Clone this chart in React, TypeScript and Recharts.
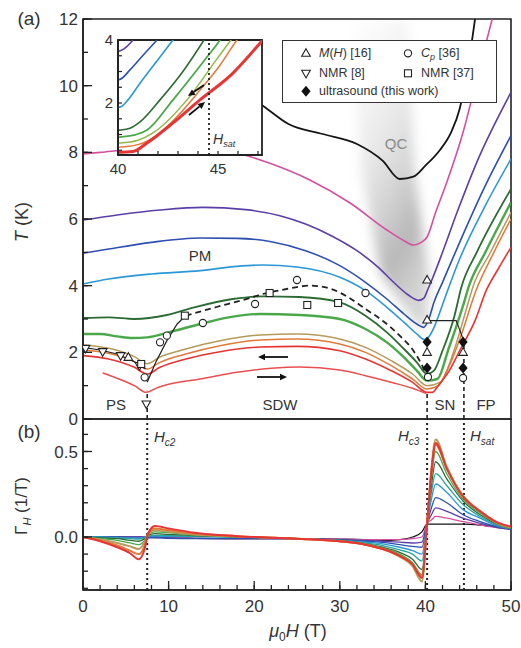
import React from 'react';
import {
  ComposedChart, Line, Area, Scatter, XAxis, YAxis, ReferenceArea, ReferenceLine,
} from 'recharts';

type Pt = [number, number];

const FONT = '"Liberation Sans", Arial, Helvetica, sans-serif';
const INK = '#222';
const TXT = '#333';

// ---------- panel (a): T (K) vs mu0H (T) ----------
const curveBlack: Pt[] = [[18, 9.9], [21, 9.4], [24, 8.85], [28, 8.55], [32, 8.25], [35, 7.75], [37, 7.2], [38.6, 7.27], [40, 7.6], [41.7, 8.07], [43, 8.6], [44, 9.3], [45, 10.6], [45.8, 12]];
const curveMagenta: Pt[] = [[0, 7.95], [2, 8.0], [6, 8.1], [12, 8.2], [17, 8.05], [21.5, 7.7], [26.5, 7.17], [31.2, 6.48], [35.5, 5.67], [37.5, 5.35], [38.6, 5.22], [39.5, 5.3], [40.2, 5.46], [41.2, 6.2], [42.5, 7.1], [44.4, 8.6], [46, 10.2], [47.8, 12]];
const curvePurple: Pt[] = [[0, 5.97], [4, 6.12], [9, 6.27], [14, 6.35], [19, 6.28], [23, 6.1], [26, 5.85], [29, 5.5], [32, 5.05], [34.5, 4.55], [36.5, 4.05], [38, 3.72], [39.2, 3.56], [39.8, 3.62], [40.3, 3.9], [40.8, 4.2], [42, 5.0], [43.7, 6.2], [46, 7.7], [50, 9.8]];
const curveBlue: Pt[] = [[0, 4.97], [3, 5.1], [8, 5.3], [13.7, 5.43], [18, 5.42], [22, 5.32], [26, 5.05], [30, 4.6], [33, 4.1], [35.5, 3.6], [37.5, 3.15], [39, 2.85], [39.8, 2.75], [40.4, 3.0], [41, 3.5], [42, 4.1], [44, 5.3], [47, 7.0], [50, 8.5]];
const curveCyan: Pt[] = [[0, 4.05], [3, 4.2], [8, 4.35], [13.7, 4.45], [18, 4.58], [21, 4.62], [25, 4.56], [30, 4.25], [33, 3.85], [35.5, 3.35], [37.5, 2.9], [39, 2.55], [39.9, 2.38], [40.5, 2.5], [41.1, 2.8], [42.1, 3.5], [42.8, 4.0], [44, 4.8], [47, 6.4], [50, 7.8]];
const curveDkGreen: Pt[] = [[0, 3.03], [3, 3.05], [6, 3.0], [9.8, 3.12], [13, 3.35], [17.5, 3.6], [21, 3.68], [25.3, 3.66], [30, 3.5], [33, 3.1], [35.5, 2.6], [37.5, 2.1], [39, 1.7], [40.2, 1.35], [41, 1.45], [42, 2.05], [43.4, 3.1], [44.2, 3.95], [46, 5.0], [50, 6.9]];
const curveGreen: Pt[] = [[0, 2.55], [2, 2.55], [4, 2.48], [5.8, 2.43], [7.5, 2.45], [10, 2.6], [13.7, 2.85], [17, 3.05], [20.7, 3.15], [25.3, 3.12], [30, 3.0], [33, 2.7], [35.5, 2.3], [37.5, 1.85], [39, 1.45], [40.2, 1.15], [41.4, 1.2], [42.7, 2.1], [44.4, 3.4], [45.1, 4.0], [47, 5.0], [50, 6.5]];
const curveOlive: Pt[] = [[0, 2.22], [3, 2.12], [6, 1.87], [7.5, 1.66], [9, 1.86], [12, 2.1], [16, 2.35], [20.7, 2.52], [25, 2.55], [30, 2.4], [33, 2.15], [36, 1.75], [38.5, 1.35], [40.2, 1.0], [41.7, 1.1], [43.4, 2.1], [44.9, 3.4], [45.6, 4.0], [47.5, 4.95], [50, 6.2]];
const curveOrange: Pt[] = [[0, 2.07], [3, 1.97], [6, 1.72], [7.5, 1.5], [9, 1.7], [12, 1.95], [16, 2.2], [20.7, 2.37], [25, 2.4], [30, 2.25], [33, 2.0], [36, 1.6], [38.5, 1.2], [40.2, 0.9], [41.5, 1.0], [42.8, 1.6], [44.1, 2.45], [45.9, 3.85], [48, 5.0], [50, 6.0]];
const curveRed: Pt[] = [[0, 1.9], [3, 1.8], [6, 1.55], [7.5, 1.35], [9, 1.55], [12, 1.8], [16, 2.02], [20.7, 2.16], [25, 2.18], [30, 2.05], [33, 1.8], [36, 1.45], [38.5, 1.1], [40.2, 0.8], [40.8, 0.8], [41.5, 1.0], [42.8, 1.45], [44.1, 2.1], [45.8, 2.95], [47.1, 3.85], [48.5, 4.5], [50, 5.15]];
const curveRedLow: Pt[] = [[2.3, 1.38], [4, 1.22], [6, 1.0], [7.4, 0.8], [8.5, 0.92], [10.5, 1.07], [13.7, 1.2], [18, 1.4], [22, 1.52], [25.3, 1.56], [30, 1.47], [33, 1.3], [36, 1.1], [38.5, 0.92], [40.1, 0.76]];

// phase boundaries
const psBoundary: Pt[] = [[0, 2.15], [2, 2.07], [4, 1.95], [6, 1.72], [7.3, 1.5]];
const hc2Boundary: Pt[] = [[7.5, 1.1], [8.5, 1.7], [9.8, 2.35], [11, 2.85], [12, 3.1]];
const sdwDome: Pt[] = [[12, 3.1], [15.6, 3.36], [18.7, 3.57], [21, 3.75], [23.8, 3.9], [26.5, 4.0], [29, 3.9], [31, 3.65], [33, 3.3], [35, 2.95], [37, 2.5], [38.6, 2.05], [39.7, 1.56], [40.2, 1.26]];
const snBoundary: Pt[] = [[40.3, 2.95], [43.6, 2.95], [44.4, 2.4]];

// symbols
const ptsMH: Pt[] = [[5.3, 1.85], [40.2, 4.17], [40.2, 2.97], [40.2, 2.0], [44.4, 2.0]];
const ptsCp: Pt[] = [[7.2, 1.25], [9.0, 2.3], [9.8, 2.5], [14, 2.88], [20.1, 3.45], [25, 4.17], [33, 3.78], [40.3, 1.26], [44.4, 1.23]];
const ptsNmr8: Pt[] = [[0.3, 2.12], [2.3, 2.02], [4.4, 1.9], [6.6, 1.6], [7.4, 0.45]];
const ptsNmr37: Pt[] = [[6.8, 1.65], [11.9, 3.1], [21.8, 3.78], [26.2, 3.42], [29.8, 3.48]];
const ptsUltra: Pt[] = [[40.2, 2.31], [40.2, 1.53], [44.4, 2.31], [44.4, 1.53]];

// quantum-critical fan
const qcH = [31, 32.5, 34.7, 37.9, 38.7, 39.5, 40.2, 40.5];
const qcLow = [12, 7.5, 4.4, 3.2, 2.95, 2.7, 2.8, 4.2];
const qcHigh = [12, 12, 12, 12, 7.5, 5.9, 4.7, 4.2];

const ticksT = [0, 1, 2, 3, 4, 5, 6, 7, 8, 9, 10, 11, 12];
const labelsT = [0, 2, 4, 6, 8, 10, 12];
const ticksH = [0, 2, 4, 6, 8, 10, 12, 14, 16, 18, 20, 22, 24, 26, 28, 30, 32, 34, 36, 38, 40, 42, 44, 46, 48, 50];
const labelsH = [0, 10, 20, 30, 40, 50];

// ---------- inset ----------
const inPurple: Pt[] = [[39.8, 3.6], [40.3, 3.72], [40.75, 4.0], [41, 4.2]];
const inBlue: Pt[] = [[39.8, 2.72], [40.1, 2.75], [40.6, 3.05], [41.3, 3.55], [41.95, 4.0], [42.3, 4.25]];
const inCyan: Pt[] = [[39.8, 1.86], [40.1, 1.87], [40.5, 2.1], [41.1, 2.63], [42.1, 3.46], [42.75, 4.0], [43, 4.2]];
const inDkGreen: Pt[] = [[39.8, 1.13], [40.1, 1.14], [40.6, 1.2], [41.1, 1.4], [42.1, 2.1], [43.3, 3.05], [44.3, 4.0], [44.5, 4.2]];
const inGreen: Pt[] = [[39.8, 0.9], [40.1, 0.92], [40.8, 0.98], [41.45, 1.14], [42.75, 2.1], [44.45, 3.46], [45.1, 4.0], [45.3, 4.2]];
const inOlive: Pt[] = [[39.8, 0.72], [40.1, 0.73], [41, 0.82], [41.75, 1.05], [43.45, 2.1], [44.95, 3.4], [45.65, 4.0], [45.9, 4.2]];
const inOrange: Pt[] = [[39.8, 0.58], [40.1, 0.6], [41, 0.68], [42, 1.0], [43, 1.6], [44.1, 2.41], [45.1, 3.2], [45.95, 4.0], [46.2, 4.2]];
const inRed: Pt[] = [[39.8, 0.44], [40.1, 0.44], [40.75, 0.46], [41.45, 0.73], [42.75, 1.37], [44.1, 2.1], [45.75, 2.95], [47.1, 3.9], [47.5, 4.2]];
const inTicksH = [40, 41, 42, 43, 44, 45, 46, 47];
const inLabelsH = [40, 45];
const inTicksT = [0.5, 1, 1.5, 2, 2.5, 3, 3.5, 4];
const inLabelsT = [2, 4];

// ---------- panel (b): Gamma_H (1/T) ----------
const gH = [0, 2, 4, 5.5, 6.5, 7.2, 7.6, 8.4, 10, 13, 18, 25, 30, 33, 35, 37, 38.5, 39.6, 40.2, 40.7, 41.2, 42.5, 44.4, 46.4, 48.4, 50];
const gBlack = [0, 0, 0, 0, 0, 0, 0, 0, -0.005, -0.008, -0.01, -0.01, -0.012, -0.015, -0.02, -0.015, 0.0, 0.03, 0.075, 0.075, 0.075, 0.075, 0.075, 0.07, 0.06, 0.05];
const gMagenta = [0, 0, 0, 0, 0, 0, 0, 0, -0.005, -0.008, -0.01, -0.01, -0.012, -0.015, -0.015, -0.015, -0.01, 0.0, 0.08, 0.1, 0.12, 0.11, 0.09, 0.07, 0.055, 0.045];
const gPurple = [0, 0, 0, 0, 0, 0, 0, 0, -0.005, -0.008, -0.01, -0.01, -0.015, -0.02, -0.025, -0.03, -0.035, -0.03, 0.08, 0.13, 0.17, 0.15, 0.11, 0.08, 0.055, 0.045];
const gBlue = [0, 0, 0, -0.003, -0.005, -0.005, -0.005, -0.005, -0.008, -0.01, -0.01, -0.01, -0.018, -0.025, -0.032, -0.045, -0.055, -0.06, 0.08, 0.17, 0.23, 0.2, 0.13, 0.09, 0.06, 0.045];
const gCyan = [0, 0, -0.003, -0.005, -0.006, 0, 0.003, 0.005, 0.004, 0.002, 0, -0.01, -0.02, -0.03, -0.04, -0.06, -0.08, -0.1, 0.08, 0.22, 0.31, 0.26, 0.16, 0.11, 0.065, 0.05];
const gTeal = [0, -0.003, -0.006, -0.01, -0.012, -0.005, 0.005, 0.01, 0.008, 0.004, 0, -0.01, -0.02, -0.035, -0.05, -0.075, -0.1, -0.14, 0.08, 0.26, 0.37, 0.3, 0.19, 0.12, 0.07, 0.05];
const gDkGreen = [0, -0.005, -0.01, -0.02, -0.025, -0.01, 0.01, 0.02, 0.015, 0.008, 0, -0.01, -0.022, -0.04, -0.06, -0.09, -0.13, -0.19, 0.08, 0.3, 0.44, 0.34, 0.21, 0.13, 0.075, 0.05];
const gGreen = [0, -0.01, -0.02, -0.035, -0.045, -0.02, 0.015, 0.03, 0.025, 0.012, 0.002, -0.01, -0.025, -0.042, -0.065, -0.1, -0.15, -0.22, 0.08, 0.35, 0.5, 0.37, 0.22, 0.14, 0.08, 0.055];
const gOlive = [0, -0.015, -0.035, -0.055, -0.07, -0.03, 0.015, 0.04, 0.03, 0.015, 0.003, -0.01, -0.025, -0.045, -0.07, -0.115, -0.17, -0.26, 0.08, 0.4, 0.57, 0.41, 0.24, 0.15, 0.08, 0.055];
const gOrange = [0, -0.02, -0.05, -0.08, -0.1, -0.05, 0.02, 0.05, 0.04, 0.02, 0.005, -0.01, -0.025, -0.045, -0.07, -0.11, -0.16, -0.23, 0.08, 0.37, 0.54, 0.4, 0.24, 0.15, 0.085, 0.06];
const gRed = [0, -0.025, -0.06, -0.095, -0.13, -0.07, 0.02, 0.065, 0.05, 0.025, 0.005, -0.01, -0.025, -0.045, -0.07, -0.11, -0.16, -0.24, 0.08, 0.38, 0.55, 0.4, 0.235, 0.15, 0.085, 0.06];
const ticksG = [-0.3, -0.2, -0.1, 0, 0.1, 0.2, 0.3, 0.4, 0.5, 0.6];
const labelsG = [0, 0.5];

const rows = (pts: Pt[]) => pts.map(([h, t]) => ({ h, t }));
const qcRows = qcH.map((h, i) => ({ h, r: [qcLow[i], qcHigh[i]] }));
const gRows = gH.map((h, i) => ({
  h, black: gBlack[i], magenta: gMagenta[i], purple: gPurple[i], blue: gBlue[i], cyan: gCyan[i], teal: gTeal[i],
  dkgreen: gDkGreen[i], green: gGreen[i], olive: gOlive[i], orange: gOrange[i], red: gRed[i],
}));

const C = {
  black: '#151515', magenta: '#d3509f', purple: '#5a40a6', blue: '#2f4fb0', cyan: '#2b98d6', teal: '#27a59b',
  dkgreen: '#2d6b34', green: '#4aa84a', olive: '#b59a5c', orange: '#e07a3a', red: '#e63535', redLow: '#ea4f4f',
};

const near = (list: number[], v: number) => list.some((m) => Math.abs(m - v) < 1e-6);

// ticks point inward; majors get an extra longer line
function makeTick(side: 'left' | 'bottom', minor: number, margin: number, major: number, majors: number[], labels: number[], fmt: (v: number) => string, size: number) {
  return (props: any) => {
    const { x, y, payload } = props;
    const v = Number(payload.value);
    const big = near(majors, v);
    const lab = near(labels, v);
    if (side === 'left') {
      const ax = x - minor + margin;
      return (
        <g>
          {big && <line x1={ax} x2={ax + major} y1={y} y2={y} stroke={INK} strokeWidth={1.3} />}
          {lab && <text x={x} y={y} dy="0.36em" textAnchor="end" fontSize={size} fontFamily={FONT} fill={TXT}>{fmt(v)}</text>}
        </g>
      );
    }
    const ay = y + minor - margin;
    return (
      <g>
        {big && <line x1={x} x2={x} y1={ay} y2={ay - major} stroke={INK} strokeWidth={1.3} />}
        {lab && <text x={x} y={y} dy="0.71em" textAnchor="middle" fontSize={size} fontFamily={FONT} fill={TXT}>{fmt(v)}</text>}
      </g>
    );
  };
}

const TriUp = ({ cx, cy }: any) => <path d={`M${cx} ${cy - 4.6}L${cx + 4.3} ${cy + 3}L${cx - 4.3} ${cy + 3}Z`} fill="#fff" stroke={INK} strokeWidth={1.1} />;
const TriDown = ({ cx, cy }: any) => <path d={`M${cx} ${cy + 4.6}L${cx + 4.3} ${cy - 3}L${cx - 4.3} ${cy - 3}Z`} fill="#fff" stroke={INK} strokeWidth={1.1} />;
const Circ = ({ cx, cy }: any) => <circle cx={cx} cy={cy} r={3.6} fill="#fff" stroke={INK} strokeWidth={1.1} />;
const Sq = ({ cx, cy }: any) => <rect x={cx - 3.5} y={cy - 3.5} width={7} height={7} fill="#fff" stroke={INK} strokeWidth={1.1} />;
const Dia = ({ cx, cy }: any) => <path d={`M${cx} ${cy - 5.5}L${cx + 4.6} ${cy}L${cx} ${cy + 5.5}L${cx - 4.6} ${cy}Z`} fill="#111" />;

function Arrow({ x1, y1, x2, y2 }: { x1: number; y1: number; x2: number; y2: number }) {
  const a = Math.atan2(y2 - y1, x2 - x1);
  const L = 7;
  const W = 3.2;
  const bx = x2 - L * Math.cos(a);
  const by = y2 - L * Math.sin(a);
  const px = -Math.sin(a) * W;
  const py = Math.cos(a) * W;
  return (
    <g>
      <line x1={x1} y1={y1} x2={bx} y2={by} stroke="#111" strokeWidth={1.8} />
      <path d={`M${x2},${y2}L${bx + px},${by + py}L${bx - px},${by - py}Z`} fill="#111" />
    </g>
  );
}

const Txt = ({ x, y, children, size = 15, color = TXT, center = true }: any) => (
  <div style={{ position: 'absolute', left: x, top: y, transform: center ? 'translate(-50%, -50%)' : undefined, fontSize: size, color, lineHeight: 1, whiteSpace: 'nowrap' }}>
    {children}
  </div>
);

const Sub = ({ children, size }: any) => (
  <span style={{ fontSize: size, position: 'relative', top: '0.35em', fontStyle: 'italic' }}>{children}</span>
);

const LegendSym = ({ shape }: { shape: (p: any) => any }) => (
  <svg width={12} height={12} style={{ display: 'block' }}>{shape({ cx: 6, cy: 6.3 })}</svg>
);

const lineA = (pts: Pt[], color: string, w = 1.6, key?: string) => (
  <Line key={key} data={rows(pts)} dataKey="t" xAxisId="x" yAxisId="y" type="monotone" stroke={color} strokeWidth={w} dot={false} isAnimationActive={false} />
);

export default function App() {
  return (
    <div style={{ position: 'absolute', left: 0, top: 0, width: 521, height: 648, background: '#fff', fontFamily: FONT, overflow: 'hidden' }}>
      {/* panel (a) */}
      <div style={{ position: 'absolute', left: 0, top: 0 }}>
        <ComposedChart width={521} height={440} margin={{ top: 19, right: 10, bottom: 21, left: 0 }}>
          <defs>
            <linearGradient id="qcFill" x1="0.15" y1="0" x2="0.6" y2="1">
              <stop offset="0" stopColor="#f2f2f2" stopOpacity={0.15} />
              <stop offset="0.45" stopColor="#d0d0d0" stopOpacity={0.55} />
              <stop offset="0.8" stopColor="#a6a6a6" stopOpacity={0.8} />
              <stop offset="1" stopColor="#b8b8b8" stopOpacity={0.6} />
            </linearGradient>
            <filter id="qcBlur" x="-30%" y="-10%" width="160%" height="120%">
              <feGaussianBlur stdDeviation="6" />
            </filter>
          </defs>
          <XAxis xAxisId="x" dataKey="h" type="number" orientation="top" domain={[0, 50]} ticks={ticksH} interval={0} height={0} allowDataOverflow tick={false} tickSize={-5} tickLine={{ stroke: INK, strokeWidth: 1.3 }} axisLine={{ stroke: INK, strokeWidth: 1.6 }} />
          <YAxis yAxisId="y" type="number" domain={[0, 12]} ticks={ticksT} interval={0} width={83} allowDataOverflow tickSize={-5} tickMargin={10} tickLine={{ stroke: INK, strokeWidth: 1.3 }} axisLine={{ stroke: INK, strokeWidth: 1.6 }} tick={makeTick('left', 5, 10, 9, labelsT, labelsT, (v) => String(v), 17)} />
          <YAxis yAxisId="r" orientation="right" type="number" domain={[0, 12]} ticks={ticksT} interval={0} width={0} tick={false} tickSize={-5} tickLine={{ stroke: INK, strokeWidth: 1.3 }} axisLine={{ stroke: INK, strokeWidth: 1.6 }} />
          <Area data={qcRows} dataKey="r" xAxisId="x" yAxisId="y" type="linear" stroke="none" fill="url(#qcFill)" fillOpacity={1} filter="url(#qcBlur)" isAnimationActive={false} />
          {lineA(curveBlack, C.black, 1.8, 'k')}
          {lineA(curveMagenta, C.magenta, 1.6, 'm')}
          {lineA(curvePurple, C.purple, 1.6, 'p')}
          {lineA(curveBlue, C.blue, 1.6, 'b')}
          {lineA(curveCyan, C.cyan, 1.6, 'c')}
          {lineA(curveDkGreen, C.dkgreen, 1.8, 'dg')}
          {lineA(curveGreen, C.green, 2.4, 'g')}
          {lineA(curveOlive, C.olive, 1.5, 'o')}
          {lineA(curveOrange, C.orange, 1.5, 'or')}
          {lineA(curveRed, C.red, 1.6, 'r')}
          {lineA(curveRedLow, C.redLow, 1.5, 'rl')}
          <Line data={rows(psBoundary)} dataKey="t" xAxisId="x" yAxisId="y" type="linear" stroke={INK} strokeWidth={1.1} dot={false} isAnimationActive={false} />
          <Line data={rows(hc2Boundary)} dataKey="t" xAxisId="x" yAxisId="y" type="linear" stroke={INK} strokeWidth={1.2} dot={false} isAnimationActive={false} />
          <Line data={rows(sdwDome)} dataKey="t" xAxisId="x" yAxisId="y" type="monotone" stroke={INK} strokeWidth={1.8} strokeDasharray="6 4" dot={false} isAnimationActive={false} />
          <Line data={rows(snBoundary)} dataKey="t" xAxisId="x" yAxisId="y" type="linear" stroke={INK} strokeWidth={1.1} dot={false} isAnimationActive={false} />
          <ReferenceLine xAxisId="x" yAxisId="y" segment={[{ x: 7.5, y: 0 }, { x: 7.5, y: 0.85 }]} stroke={INK} strokeWidth={1.6} strokeDasharray="4 3" />
          <ReferenceLine xAxisId="x" yAxisId="y" segment={[{ x: 40.2, y: 0 }, { x: 40.2, y: 0.75 }]} stroke={INK} strokeWidth={1.6} strokeDasharray="4 3" />
          <ReferenceLine xAxisId="x" yAxisId="y" segment={[{ x: 44.5, y: 0 }, { x: 44.5, y: 2.3 }]} stroke={INK} strokeWidth={1.6} strokeDasharray="4 3" />
          <Scatter data={rows(ptsMH)} dataKey="t" xAxisId="x" yAxisId="y" shape={TriUp} isAnimationActive={false} />
          <Scatter data={rows(ptsCp)} dataKey="t" xAxisId="x" yAxisId="y" shape={Circ} isAnimationActive={false} />
          <Scatter data={rows(ptsNmr8)} dataKey="t" xAxisId="x" yAxisId="y" shape={TriDown} isAnimationActive={false} />
          <Scatter data={rows(ptsNmr37)} dataKey="t" xAxisId="x" yAxisId="y" shape={Sq} isAnimationActive={false} />
          <Scatter data={rows(ptsUltra)} dataKey="t" xAxisId="x" yAxisId="y" shape={Dia} isAnimationActive={false} />
          <ReferenceArea xAxisId="x" yAxisId="y" x1={0} x2={50} y1={0} y2={12} fill="none" stroke={INK} strokeWidth={1.6} />
        </ComposedChart>
      </div>

      {/* panel (b) */}
      <div style={{ position: 'absolute', left: 0, top: 409 }}>
        <ComposedChart width={521} height={231} data={gRows} margin={{ top: 10, right: 10, bottom: 10, left: 0 }}>
          <XAxis xAxisId="x" dataKey="h" type="number" domain={[0, 50]} ticks={ticksH} interval={0} height={40} allowDataOverflow tickSize={-5} tickMargin={15} tickLine={{ stroke: INK, strokeWidth: 1.3 }} axisLine={{ stroke: INK, strokeWidth: 1.6 }} tick={makeTick('bottom', 5, 15, 9, labelsH, labelsH, (v) => String(v), 17)} />
          <YAxis yAxisId="y" type="number" domain={[-0.31, 0.69]} ticks={ticksG} interval={0} width={83} allowDataOverflow tickSize={-5} tickMargin={10} tickLine={{ stroke: INK, strokeWidth: 1.3 }} axisLine={{ stroke: INK, strokeWidth: 1.6 }} tick={makeTick('left', 5, 10, 9, labelsG, labelsG, (v) => v.toFixed(1), 17)} />
          <YAxis yAxisId="r" orientation="right" type="number" domain={[-0.31, 0.69]} ticks={ticksG} interval={0} width={0} tick={false} tickSize={-5} tickLine={{ stroke: INK, strokeWidth: 1.3 }} axisLine={{ stroke: INK, strokeWidth: 1.6 }} />
          <ReferenceLine xAxisId="x" yAxisId="y" x={7.5} stroke={INK} strokeWidth={2} strokeDasharray="2 3" />
          <ReferenceLine xAxisId="x" yAxisId="y" x={40.2} stroke={INK} strokeWidth={2} strokeDasharray="2 3" />
          <ReferenceLine xAxisId="x" yAxisId="y" x={44.5} stroke={INK} strokeWidth={2} strokeDasharray="2 3" />
          {(['black', 'magenta', 'purple', 'blue', 'cyan', 'teal', 'dkgreen', 'green', 'olive', 'orange', 'red'] as const).map((k) => (
            <Line key={k} dataKey={k} xAxisId="x" yAxisId="y" type="monotone" stroke={(C as any)[k]} strokeWidth={k === 'red' || k === 'orange' || k === 'olive' ? 2 : 1.3} dot={false} isAnimationActive={false} />
          ))}
          <ReferenceArea xAxisId="x" yAxisId="y" x1={0} x2={50} y1={-0.31} y2={0.69} fill="none" stroke={INK} strokeWidth={1.6} />
        </ComposedChart>
      </div>

      {/* inset */}
      <div style={{ position: 'absolute', left: 88, top: 25 }}>
        <ComposedChart width={179} height={155} margin={{ top: 15, right: 5, bottom: 0, left: 0 }}>
          <XAxis xAxisId="x" dataKey="h" type="number" domain={[40, 47.2]} ticks={inTicksH} interval={0} height={25} allowDataOverflow tickSize={-4} tickMargin={12} tickLine={{ stroke: INK, strokeWidth: 1.2 }} axisLine={{ stroke: INK, strokeWidth: 1.8 }} tick={makeTick('bottom', 4, 12, 0, [], inLabelsH, (v) => String(v), 15)} />
          <YAxis yAxisId="y" type="number" domain={[0.35, 4]} ticks={inTicksT} interval={0} width={30} allowDataOverflow tickSize={-4} tickMargin={9} tickLine={{ stroke: INK, strokeWidth: 1.2 }} axisLine={{ stroke: INK, strokeWidth: 1.8 }} tick={makeTick('left', 4, 9, 0, [], inLabelsT, (v) => String(v), 15)} />
          <ReferenceArea xAxisId="x" yAxisId="y" x1={40} x2={47.2} y1={0.35} y2={4} fill="#fff" fillOpacity={1} stroke={INK} strokeWidth={1.8} />
          {lineA(inPurple, C.purple, 1.6, 'ip')}
          {lineA(inBlue, C.blue, 1.6, 'ib')}
          {lineA(inCyan, C.cyan, 1.6, 'ic')}
          {lineA(inDkGreen, C.dkgreen, 1.6, 'idg')}
          {lineA(inGreen, C.green, 1.8, 'ig')}
          {lineA(inOlive, '#8fb84a', 1.5, 'io')}
          {lineA(inOrange, C.orange, 1.5, 'ior')}
          {lineA(inRed, C.red, 3, 'ir')}
          <ReferenceLine xAxisId="x" yAxisId="y" x={44.55} stroke={INK} strokeWidth={1.8} strokeDasharray="2 3" />
        </ComposedChart>
      </div>

      {/* legend */}
      <div style={{ position: 'absolute', left: 282, top: 40, width: 215, height: 63, boxSizing: 'border-box', border: '1.3px solid #333', background: '#fff', fontSize: 12.5, color: TXT }}>
        <div style={{ position: 'absolute', left: 17, top: 6 }}><LegendSym shape={TriUp} /></div>
        <div style={{ position: 'absolute', left: 36, top: 5 }}><i>M</i>(<i>H</i>) [16]</div>
        <div style={{ position: 'absolute', left: 119, top: 6 }}><LegendSym shape={Circ} /></div>
        <div style={{ position: 'absolute', left: 138, top: 5 }}><i>C</i><Sub size={9}>p</Sub> [36]</div>
        <div style={{ position: 'absolute', left: 17, top: 26 }}><LegendSym shape={TriDown} /></div>
        <div style={{ position: 'absolute', left: 36, top: 25 }}>NMR [8]</div>
        <div style={{ position: 'absolute', left: 119, top: 26 }}><LegendSym shape={Sq} /></div>
        <div style={{ position: 'absolute', left: 138, top: 25 }}>NMR [37]</div>
        <div style={{ position: 'absolute', left: 17, top: 44 }}><LegendSym shape={Dia} /></div>
        <div style={{ position: 'absolute', left: 36, top: 43 }}>ultrasound (this work)</div>
      </div>

      {/* annotations */}
      <Txt x={29} y={18} size={19}>(a)</Txt>
      <Txt x={29} y={431} size={19}>(b)</Txt>
      <div style={{ position: 'absolute', left: 22, top: 222, transform: 'translate(-50%, -50%) rotate(-90deg)', fontSize: 18, color: TXT, whiteSpace: 'nowrap' }}>
        <i>T</i> (K)
      </div>
      <div style={{ position: 'absolute', left: 22, top: 506, transform: 'translate(-50%, -50%) rotate(-90deg)', fontSize: 17, color: TXT, whiteSpace: 'nowrap' }}>
        Γ<Sub size={11}>H</Sub> (1/T)
      </div>
      <Txt x={298} y={631} size={18}><i>μ</i><span style={{ fontSize: 12, position: 'relative', top: '0.3em' }}>0</span><i>H</i> (T)</Txt>
      <Txt x={200} y={255}>PM</Txt>
      <Txt x={116} y={404}>PS</Txt>
      <Txt x={280} y={404}>SDW</Txt>
      <Txt x={445} y={404}>SN</Txt>
      <Txt x={486} y={404}>FP</Txt>
      <Txt x={396} y={143} color="#8a8a8a">QC</Txt>
      <Txt x={154} y={429} center={false}><i>H</i><Sub size={10}>c2</Sub></Txt>
      <Txt x={398} y={428} center={false}><i>H</i><Sub size={10}>c3</Sub></Txt>
      <Txt x={470} y={428} center={false}><i>H</i><Sub size={10}>sat</Sub></Txt>
      <Txt x={213} y={132} size={14} center={false}><i>H</i><Sub size={9}>sat</Sub></Txt>

      <svg width={521} height={648} style={{ position: 'absolute', left: 0, top: 0, pointerEvents: 'none' }}>
        <Arrow x1={288} y1={357} x2={258} y2={357} />
        <Arrow x1={257} y1={377} x2={287} y2={377} />
        <Arrow x1={204} y1={85} x2={188} y2={96} />
        <Arrow x1={189} y1={115} x2={205} y2={102} />
      </svg>
    </div>
  );
}
